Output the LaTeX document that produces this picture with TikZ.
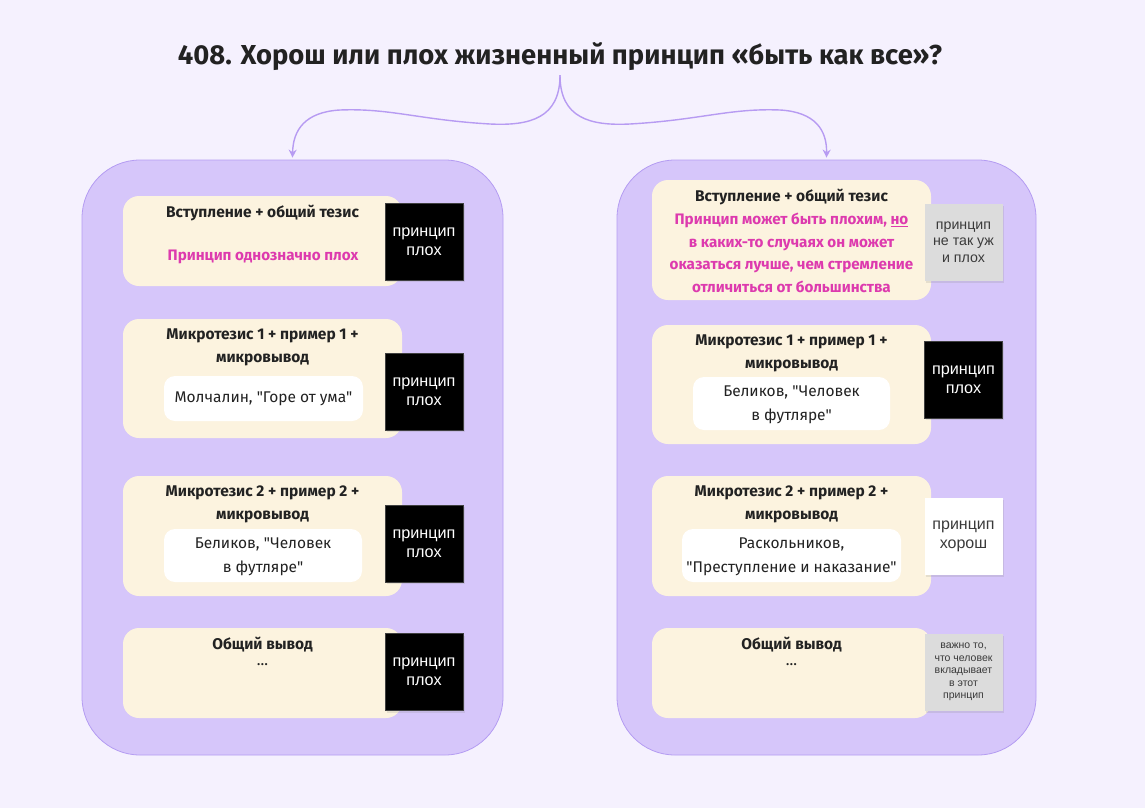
\documentclass[tikz,border=0pt]{standalone}
\usepackage{fontspec}
\setmainfont{Liberation Sans}
\newfontfamily\hand{Fira Sans}
\usetikzlibrary{arrows.meta,shadows}
\definecolor{bg}{HTML}{F5F1FE}
\definecolor{panelc}{HTML}{D6C6FA}
\definecolor{panelborder}{HTML}{B49CF2}
\definecolor{cardc}{HTML}{FCF3DF}
\definecolor{pinktxt}{HTML}{DD3AAE}
\definecolor{arrowc}{HTML}{B79BF2}
\definecolor{greysticky}{HTML}{DCDCDC}
\definecolor{ink}{HTML}{222222}
\definecolor{greyink}{HTML}{3A3A3A}
\tikzset{
  panelbox/.style={draw=panelborder, line width=0.8pt, fill=panelc, rounded corners=58pt, inner sep=0pt},
  cardbox/.style={fill=cardc, rounded corners=16pt, minimum width=279pt, inner sep=0pt},
  whitebox/.style={fill=white, rounded corners=11pt, inner sep=0pt},
  sticky/.style={minimum width=78pt, minimum height=77pt, inner sep=0pt, align=center,
     drop shadow={shadow xshift=1.5pt, shadow yshift=-2pt, opacity=0.18}},
  blacksticky/.style={sticky, fill=black, draw=black!75, line width=0.4pt, text=white,
     font=\fontsize{16.2}{19}\selectfont},
  cardtitle/.style={font=\hand\bfseries\fontsize{15.5}{23}\selectfont, text=ink, align=center, inner sep=0pt},
  cardtext/.style={font=\hand\fontsize{15.5}{24}\selectfont, text=ink, align=center, inner sep=0pt},
  pinktext/.style={font=\hand\bfseries\fontsize{15.2}{22.5}\selectfont, text=pinktxt, align=center, inner sep=0pt},
  arr/.style={draw=arrowc, line width=1.4pt, -{Stealth[length=8pt,width=8pt]}}
}
\begin{document}
\begin{tikzpicture}[x=1pt,y=-1pt]
\fill[bg] (0,0) rectangle (1145,808);

% title
\node[font=\hand\bfseries\fontsize{27.4}{30}\selectfont, text=ink, inner sep=0pt] (title) at (560,57)
  {408. Хорош или плох жизненный принцип «быть как все»?};

% panels
\node[panelbox, minimum width=421pt, minimum height=595pt] (panelL) at (292.5,457.5) {};
\node[panelbox, minimum width=419pt, minimum height=595pt] (panelR) at (826.5,457.5) {};

% connectors
\draw[arr] ([yshift=-4pt]title.south) .. controls (560,118) and (530,126) .. (490,124)
   .. controls (420,120) and (390,108) .. (340,110)
   .. controls (305,112) and (293,130) .. ([yshift=2pt]panelL.north);
\draw[arr] ([yshift=-4pt]title.south) .. controls (560,118) and (590,126) .. (630,124)
   .. controls (700,120) and (730,108) .. (780,110)
   .. controls (815,112) and (827,130) .. ([yshift=2pt]panelR.north);

% ---------- left column ----------
\node[cardbox, minimum height=90pt] (cL1) at (262.5,241) {};
\node[cardbox, minimum height=119pt] (cL2) at (262.5,378.5) {};
\node[cardbox, minimum height=120pt] (cL3) at (262.5,536) {};
\node[cardbox, minimum height=90pt] (cL4) at (262.5,673) {};

\node[whitebox, minimum width=199pt, minimum height=45pt] (wL2) at (263.5,398.5) {};
\node[whitebox, minimum width=198pt, minimum height=53pt] (wL3) at (263,555.5) {};

\node[cardtitle] (tL1) at (262.5,213) {Вступление + общий тезис};
\node[pinktext] (pL1) at (263,257) {Принцип однозначно плох};
\node[cardtitle] (tL2) at (262.5,347) {Микротезис 1 + пример 1 +\\микровывод};
\node[cardtext] (xL2) at (263.5,399) {Молчалин, "Горе от ума"};
\node[cardtitle] (tL3) at (262.5,504) {Микротезис 2 + пример 2 +\\микровывод};
\node[cardtext] (xL3) at (263,557) {Беликов, "Человек\\в футляре"};
\node[cardtitle] (tL4) at (262.5,645) {Общий вывод};
\node[cardtext] (dL4) at (262.5,665) {...};

\node[blacksticky] (sL1) at (424,241.5) {принцип\\плох};
\node[blacksticky] (sL2) at (424,391.5) {принцип\\плох};
\node[blacksticky] (sL3) at (424,543.5) {принцип\\плох};
\node[blacksticky] (sL4) at (424,672) {принцип\\плох};

% ---------- right column ----------
\node[cardbox, minimum height=120pt] (cR1) at (791.5,240) {};
\node[cardbox, minimum height=119pt] (cR2) at (791.5,384.5) {};
\node[cardbox, minimum height=120pt] (cR3) at (791.5,536) {};
\node[cardbox, minimum height=90pt] (cR4) at (791.5,673) {};

\node[whitebox, minimum width=197pt, minimum height=53pt] (wR2) at (791.5,403.5) {};
\node[whitebox, minimum width=219pt, minimum height=53pt] (wR3) at (791.5,555.5) {};

\node[cardtitle] (tR1) at (791.5,197) {Вступление + общий тезис};
\node[pinktext] (pR1) at (791.5,253) {Принцип может быть плохим, \underline{но}\\в каких-то случаях он может\\оказаться лучше, чем стремление\\отличиться от большинства};
\node[cardtitle] (tR2) at (791.5,353) {Микротезис 1 + пример 1 +\\микровывод};
\node[cardtext] (xR2) at (791.5,405) {Беликов, "Человек\\в футляре"};
\node[cardtitle] (tR3) at (791.5,504) {Микротезис 2 + пример 2 +\\микровывод};
\node[cardtext] (xR3) at (791.5,557) {Раскольников,\\"Преступление и наказание"};
\node[cardtitle] (tR4) at (791.5,645) {Общий вывод};
\node[cardtext] (dR4) at (791.5,665) {...};

\node[sticky, fill=greysticky, text=greyink, font=\fontsize{14.2}{16.5}\selectfont] (sR1) at (963.5,242) {принцип\\не так уж\\и плох};
\node[blacksticky] (sR2) at (963.5,379.5) {принцип\\плох};
\node[sticky, fill=white, text=greyink, font=\fontsize{16}{19}\selectfont] (sR3) at (963.5,536) {принцип\\хорош};
\node[sticky, fill=greysticky, text=greyink, font=\fontsize{10.5}{12.6}\selectfont] (sR4) at (963.5,672) {важно то,\\что человек\\вкладывает\\в этот\\принцип};
\end{tikzpicture}
\end{document}
